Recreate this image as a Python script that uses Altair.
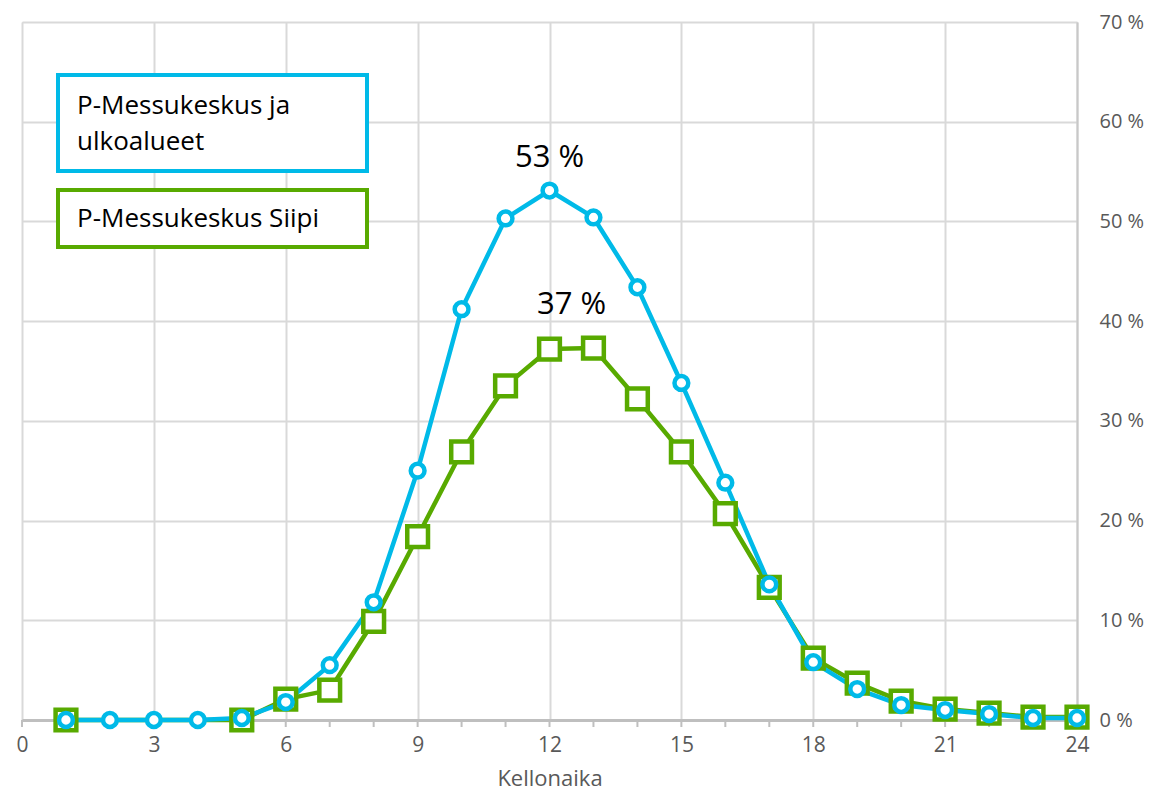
import altair as alt
import pandas as pd

hours = list(range(1, 25))
ulko = [0, 0, 0, 0, 0.2, 1.8, 5.5, 11.8, 25.0, 41.2, 50.3, 53.1, 50.4, 43.4, 33.8, 23.8,
        13.6, 5.8, 3.1, 1.5, 1.0, 0.6, 0.2, 0.2]
siipi = [0, None, None, None, 0, 2.1, 3.0, 9.9, 18.4, 26.9, 33.5, 37.2, 37.3, 32.2, 26.9, 20.7,
         13.3, 6.2, 3.7, 1.9, 1.1, 0.7, 0.3, 0.3]
x_ticks = [0, 3, 6, 9, 12, 15, 18, 21, 24]
y_ticks = [0, 10, 20, 30, 40, 50, 60, 70]
peak_labels = ["53 %", "37 %"]
peak_x = [12, 12.5]
peak_y = [53.1, 37.3]
legend_lines = [["P-Messukeskus ja", "ulkoalueet"], ["P-Messukeskus Siipi"]]

BLUE = "#00BAE8"
GREEN = "#58AA00"
FONT = "Open Sans"

df_b = pd.DataFrame({"h": hours, "v": ulko})
df_g = pd.DataFrame({"h": hours, "v": siipi}).dropna()

xs = alt.Scale(domain=[0, 24], nice=False, zero=False)
ys = alt.Scale(domain=[0, 70], nice=False)

xax = alt.Axis(values=x_ticks, title="Kellonaika", labelFontSize=21, labelColor="#595959",
               titleFontSize=22, titleFontWeight="normal", titleColor="#595959",
               labelFont=FONT, titleFont=FONT, gridColor="#D9D9D9", gridWidth=2,
               domainColor="#BFBFBF", domainWidth=3, ticks=False, labelPadding=14,
               labelFlush=False, titlePadding=13)
yax = alt.Axis(values=y_ticks, orient="right", title=None, labelFontSize=20,
               labelColor="#595959", labelFont=FONT, labelExpr="datum.value + ' %'",
               gridColor="#D9D9D9", gridWidth=2, domainColor="#C8C8C8", domainWidth=2,
               ticks=False, labelPadding=22)

base_g = alt.Chart(df_g).encode(x=alt.X("h:Q", scale=xs, axis=xax),
                                y=alt.Y("v:Q", scale=ys, axis=yax))
line_g = base_g.mark_line(color=GREEN, strokeWidth=4.5)
pts_g = base_g.mark_point(shape="square", size=430, filled=True, fill="white",
                          stroke=GREEN, strokeWidth=4.5, opacity=1)

base_b = alt.Chart(df_b).encode(x=alt.X("h:Q", scale=xs), y=alt.Y("v:Q", scale=ys))
line_b = base_b.mark_line(color=BLUE, strokeWidth=4.5)
pts_b = base_b.mark_point(shape="circle", size=190, filled=True, fill="white",
                          stroke=BLUE, strokeWidth=4.5, opacity=1)

minor = alt.Chart(pd.DataFrame({"h": list(range(0, 25))})).mark_rule(
    color="#BFBFBF", strokeWidth=2).encode(
    x=alt.X("h:Q", scale=xs), y=alt.value(698), y2=alt.value(705))

peak_df = pd.DataFrame({"x": peak_x, "y": peak_y, "t": peak_labels})
peak1 = alt.Chart(peak_df.iloc[[0]]).mark_text(
    fontSize=31, font=FONT, color="black", dy=-24, align="center",
    baseline="alphabetic").encode(
    x=alt.X("x:Q", scale=xs), y=alt.Y("y:Q", scale=ys), text="t:N")
peak2 = alt.Chart(peak_df.iloc[[1]]).mark_text(
    fontSize=31, font=FONT, color="black", dy=-34, align="center",
    baseline="alphabetic").encode(
    x=alt.X("x:Q", scale=xs), y=alt.Y("y:Q", scale=ys), text="t:N")

box1 = alt.Chart(pd.DataFrame({"a": [0]})).mark_rect(
    fill="white", stroke=BLUE, strokeWidth=4).encode(
    x=alt.value(36), x2=alt.value(345), y=alt.value(53), y2=alt.value(149))
box2 = alt.Chart(pd.DataFrame({"a": [0]})).mark_rect(
    fill="white", stroke=GREEN, strokeWidth=4).encode(
    x=alt.value(36), x2=alt.value(345), y=alt.value(168), y2=alt.value(225))
t1 = alt.Chart(pd.DataFrame({"t": [legend_lines[0]]})).mark_text(
    fontSize=26, font=FONT, color="black", align="left", baseline="alphabetic",
    lineHeight=36).encode(x=alt.value(55), y=alt.value(92), text="t")
t2 = alt.Chart(pd.DataFrame({"t": legend_lines[1]})).mark_text(
    fontSize=26, font=FONT, color="black", align="left", baseline="alphabetic").encode(
    x=alt.value(55), y=alt.value(205), text="t:N")

chart = alt.layer(minor, line_g, line_b, pts_g, pts_b, peak1, peak2, box1, box2, t1, t2).properties(
    width=1055, height=698,
    padding={"left": 7, "top": 4, "right": 5, "bottom": 3},
).configure_view(stroke="#E2F5C8", strokeWidth=2).configure(background="white")

chart.save("out.html", embed_options={"renderer": "svg", "actions": False})
